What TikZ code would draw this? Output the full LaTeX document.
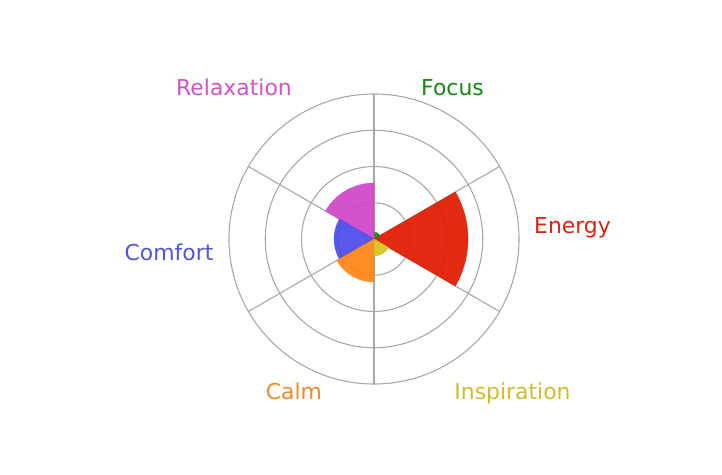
\documentclass[tikz,border=0pt]{standalone}
\usepackage{fontspec}
\setmainfont{DejaVu Sans}
\definecolor{cFocus}{HTML}{128A12}
\definecolor{cEnergy}{HTML}{E01A00}
\definecolor{cInsp}{HTML}{D4C21C}
\definecolor{cCalm}{HTML}{FF8515}
\definecolor{cComfort}{HTML}{4B4BEA}
\definecolor{cRelax}{HTML}{D046C8}
\definecolor{lInsp}{HTML}{D2BC2A}
\definecolor{lCalm}{HTML}{F08A28}
\definecolor{lComfort}{HTML}{5252E0}
\definecolor{lRelax}{HTML}{D252C8}
\definecolor{lEnergy}{HTML}{DD2211}
\definecolor{gridc}{HTML}{A8A8A8}
\tikzset{
  gridline/.style={draw=gridc, line width=1.1pt},
  bar/.style={fill opacity=0.93, draw opacity=0.6, line width=0.6pt},
  lbl/.style={anchor=base, inner sep=0pt, font=\fontsize{21.9}{26}\selectfont},
}
\newcommand{\sector}[4]{% color, start, end, radius
  \path[bar, fill=#1, draw=#1] (C) -- ++(#2:#4) arc[start angle=#2, end angle=#3, radius=#4] -- cycle;}
\begin{document}
\begin{tikzpicture}[x=1pt,y=1pt]
\useasboundingbox (0,0) rectangle (722,474);
\coordinate (C) at (374,235);
% grid
\foreach \r in {36.25,72.5,108.75,145} \draw[gridline] (C) circle[radius=\r];
\foreach \a in {30,90,150,210,270,330} \draw[gridline] (C) -- ++(\a:145);
% bars
\sector{cEnergy}{-30}{30}{94}
\sector{cFocus}{30}{90}{7}
\sector{cRelax}{90}{150}{56}
\sector{cComfort}{150}{210}{40}
\sector{cCalm}{210}{270}{43}
\sector{cInsp}{270}{330}{17}
% labels
\node[lbl, text=cFocus] (focus) at (452.5,378) {Focus};
\node[lbl, text=lRelax] (relax) at (234,378) {Relaxation};
\node[lbl, text=lEnergy] (energy) at (572.5,240) {Energy};
\node[lbl, text=lComfort] (comfort) at (169,213) {Comfort};
\node[lbl, text=lCalm] (calm) at (294,75) {Calm};
\node[lbl, text=lInsp] (insp) at (512.5,75) {Inspiration};
\end{tikzpicture}
\end{document}
